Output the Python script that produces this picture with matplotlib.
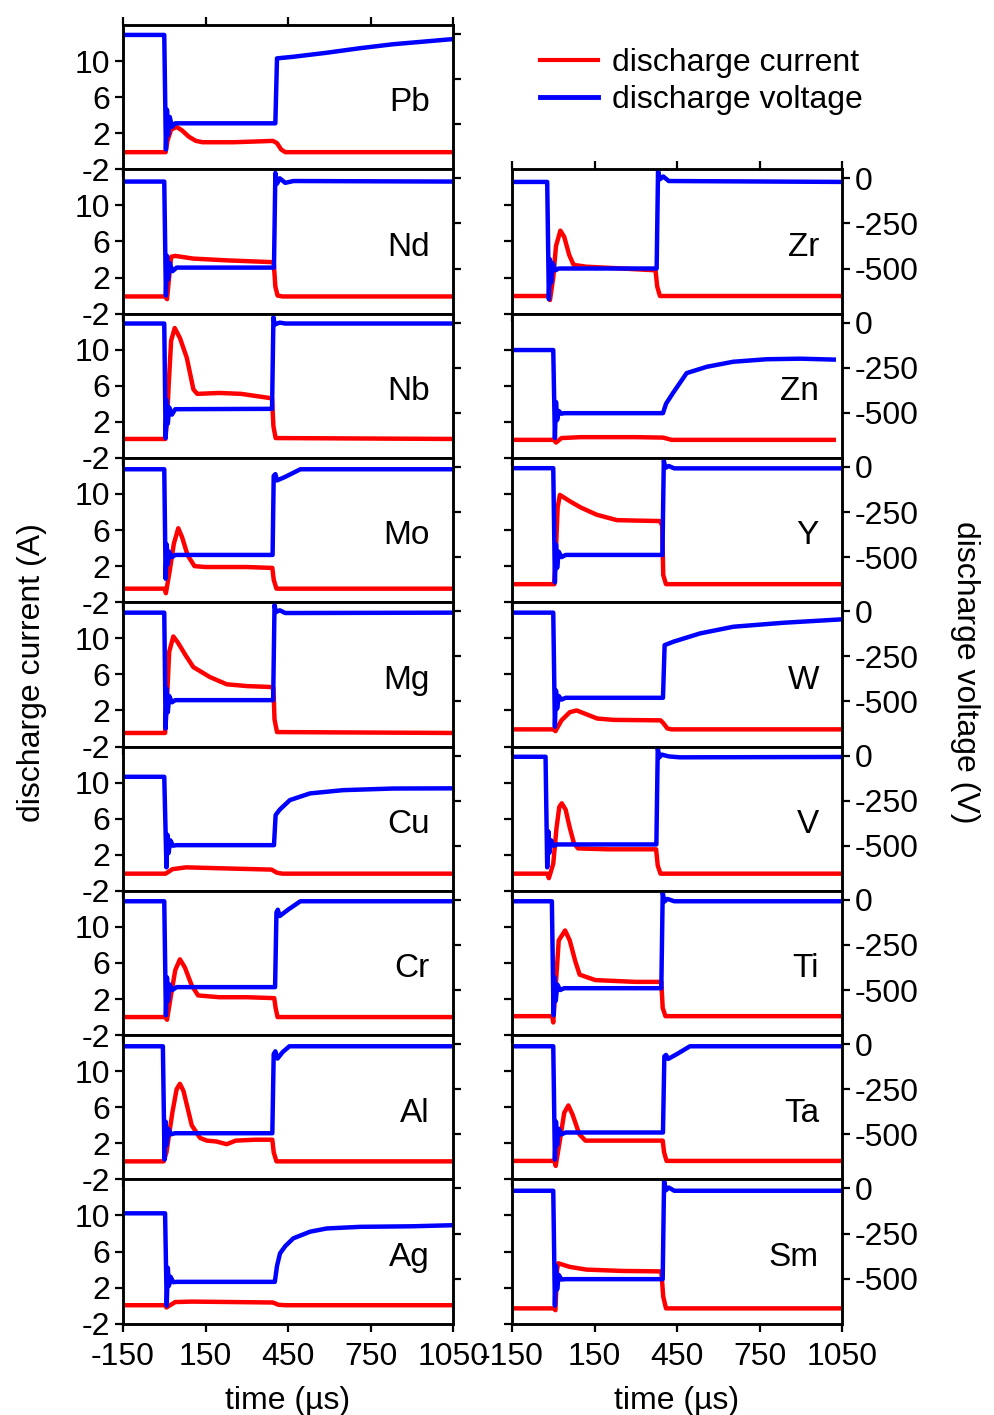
import matplotlib
matplotlib.use('Agg')
import matplotlib.pyplot as plt
from matplotlib.lines import Line2D

plt.rcParams['font.family'] = ['Liberation Sans', 'DejaVu Sans']
plt.rcParams['font.size'] = 23
plt.rcParams['axes.unicode_minus'] = False
plt.rcParams['axes.linewidth'] = 1.8
plt.rcParams['xtick.direction'] = 'out'
plt.rcParams['ytick.direction'] = 'out'
plt.rcParams['xtick.major.size'] = 6
plt.rcParams['ytick.major.size'] = 6
plt.rcParams['xtick.major.width'] = 1.6
plt.rcParams['ytick.major.width'] = 1.6
plt.rcParams['xtick.major.pad'] = 7

# (time in us, value) pairs
# current in A, voltage in V
pb_cur = [(-150, -0.1), (5, -0.1), (12, 1.2), (25, 2.4), (45, 2.7), (65, 2.3), (90, 1.6),
          (115, 1.15), (140, 1.0), (250, 1.0), (350, 1.1), (395, 1.15), (410, 0.9),
          (425, 0.2), (440, -0.1), (1050, -0.1)]
pb_volt = [(-150, -5), (0, -5), (6, -640), (10, -420), (14, -560), (20, -460), (28, -515),
           (40, -495), (404, -495), (410, -135), (470, -126), (590, -104), (710, -79),
           (830, -57), (1050, -28)]

nd_cur = [(-150, -0.1), (4, -0.1), (10, -0.4), (25, 4.3), (40, 4.4), (105, 4.1), (230, 3.9),
          (398, 3.7), (404, 1.0), (412, 0.0), (430, -0.1), (1050, -0.1)]
nd_volt = [(-150, -18), (0, -18), (6, -650), (10, -430), (14, -560), (20, -470), (30, -515),
           (45, -495), (399, -495), (404, 30), (410, -30), (420, 0), (440, -25), (470, -15),
           (1050, -18)]

nb_cur = [(-150, 0.1), (4, 0.1), (10, 2), (16, 6), (25, 11), (38, 12.4), (57, 11.3),
          (82, 9.1), (106, 5.6), (120, 5.1), (200, 5.2), (280, 5.1), (370, 4.7), (392, 4.6),
          (397, 1.5), (405, 0.2), (1050, 0.1)]
nb_volt = [(-150, -5), (0, -5), (5, -640), (9, -430), (13, -560), (18, -470), (28, -510),
           (40, -480), (392, -478), (397, 30), (402, -10), (420, 0), (440, -5), (1050, -5)]

mo_cur = [(-150, -0.5), (2, -0.5), (6, -1.0), (20, 1.5), (35, 4.5), (51, 6.2), (65, 5.2),
          (85, 3.2), (110, 2.0), (150, 1.9), (300, 1.9), (393, 1.8), (398, 0.5),
          (408, -0.5), (1050, -0.5)]
mo_volt = [(-150, -13), (0, -13), (5, -620), (9, -430), (13, -540), (18, -470), (28, -500),
           (40, -488), (394, -488), (398, -50), (404, -40), (410, -75), (440, -55),
           (495, -13), (1050, -13)]

mg_cur = [(-150, -0.5), (3, -0.5), (8, 2), (18, 8.5), (33, 10.2), (50, 9.5), (80, 8.0),
          (106, 6.8), (166, 5.7), (227, 4.9), (300, 4.7), (385, 4.6), (397, 4.5),
          (401, 1.0), (410, -0.4), (1050, -0.5)]
mg_volt = [(-150, -8), (0, -8), (5, -650), (9, -430), (13, -560), (18, -470), (28, -505),
           (40, -493), (396, -493), (401, 35), (406, -5), (420, 5), (440, -10), (1050, -8)]

cu_cur = [(-150, -0.1), (5, -0.1), (30, 0.4), (80, 0.6), (200, 0.5), (390, 0.35),
          (410, 0.0), (430, -0.1), (1050, -0.1)]
cu_volt = [(-150, -118), (0, -118), (8, -620), (12, -440), (16, -540), (22, -470),
           (32, -500), (45, -497), (399, -497), (405, -330), (420, -300), (457, -247),
           (530, -210), (650, -192), (833, -183), (1050, -182)]

cr_cur = [(-150, 0), (4, 0), (10, -0.3), (25, 2.5), (40, 5.2), (57, 6.4), (75, 5.5),
          (100, 3.5), (123, 2.4), (200, 2.2), (300, 2.2), (400, 2.1), (405, 1.0),
          (412, 0), (1050, 0)]
cr_volt = [(-150, -8), (0, -8), (6, -640), (10, -430), (14, -560), (20, -470), (30, -500),
           (45, -484), (403, -484), (408, -70), (413, -55), (420, -90), (450, -55),
           (495, -8), (1050, -8)]

al_cur = [(-150, 0), (-2, 0), (8, 1.0), (30, 5.5), (45, 8.0), (57, 8.6), (70, 7.8),
          (100, 4.0), (130, 2.6), (155, 2.3), (190, 2.2), (227, 1.9), (260, 2.3),
          (330, 2.4), (393, 2.4), (398, 1.0), (408, 0.0), (1050, 0)]
al_volt = [(-150, -12), (-5, -12), (1, -640), (5, -430), (9, -560), (15, -470), (25, -500),
           (40, -494), (393, -494), (398, -55), (404, -40), (412, -80), (430, -45),
           (455, -12), (1050, -12)]

ag_cur = [(-150, 0.05), (3, 0.05), (8, -0.2), (40, 0.4), (100, 0.45), (250, 0.4),
          (395, 0.35), (415, 0.1), (440, 0.05), (1050, 0.05)]
ag_volt = [(-150, -138), (3, -138), (9, -650), (13, -440), (17, -540), (23, -490),
           (33, -520), (45, -518), (402, -518), (410, -430), (421, -360), (440, -320),
           (469, -277), (530, -240), (591, -222), (712, -213), (900, -210), (1050, -204)]

zr_cur = [(-150, -0.05), (-18, -0.05), (-12, -0.5), (0, 2), (10, 5.5), (26, 7.2), (40, 6.5),
          (58, 4.5), (74, 3.4), (120, 3.2), (250, 3.0), (372, 2.8), (378, 1.0),
          (388, -0.05), (1050, -0.05)]
zr_volt = [(-150, -20), (-22, -20), (-16, -670), (-12, -450), (-8, -580), (-2, -470),
           (8, -510), (20, -500), (376, -500), (381, 40), (388, -5), (400, 10), (420, -15),
           (1050, -20)]

zn_cur = [(-150, 0), (3, 0), (10, -0.3), (30, 0.2), (100, 0.3), (300, 0.3), (400, 0.25),
          (430, 0.0), (1020, 0)]
zn_volt = [(-150, -152), (0, -152), (6, -640), (10, -440), (14, -540), (20, -490),
           (30, -505), (40, -502), (399, -502), (410, -450), (435, -391), (485, -280),
           (558, -245), (654, -217), (776, -203), (900, -200), (1020, -205)]

y_cur = [(-150, 0), (4, 0), (10, 4), (16, 8.5), (24, 9.9), (60, 9.2), (100, 8.5),
         (158, 7.7), (231, 7.1), (300, 7.05), (388, 7.0), (396, 6.5), (400, 1.0),
         (410, 0.0), (1050, 0)]
y_volt = [(-150, -7), (0, -7), (6, -640), (10, -430), (14, -560), (20, -470), (30, -500),
          (45, -488), (397, -488), (402, 35), (408, -5), (420, 5), (440, -8), (1050, -8)]

w_cur = [(-150, -0.1), (3, -0.1), (8, -0.3), (30, 0.9), (60, 1.8), (85, 2.0), (110, 1.7),
         (160, 1.1), (220, 0.95), (390, 0.9), (400, 0.6), (415, 0.0), (430, -0.1),
         (1050, -0.1)]
w_volt = [(-150, -8), (0, -8), (6, -640), (10, -440), (14, -540), (20, -470), (30, -490),
          (45, -480), (399, -480), (405, -188), (437, -169), (534, -123), (655, -86),
          (837, -64), (1050, -45)]

v_cur = [(-150, -0.1), (-22, -0.1), (-16, -0.6), (0, 1), (12, 5), (22, 7.3), (31, 7.7),
         (45, 7), (60, 5), (75, 3.3), (90, 2.7), (200, 2.6), (374, 2.6), (380, 0.8),
         (390, -0.1), (1050, -0.1)]
v_volt = [(-150, -7), (-28, -7), (-22, -620), (-18, -420), (-14, -540), (-8, -470),
          (2, -500), (15, -493), (375, -493), (380, 40), (386, -10), (395, 5), (420, -5),
          (460, -10), (1050, -8)]

ti_cur = [(-150, 0.1), (-4, 0.1), (0, -0.6), (8, 3), (20, 8.5), (43, 9.6), (60, 8.5),
          (80, 6.2), (96, 4.7), (153, 4.1), (300, 3.9), (393, 3.9), (398, 1.0), (408, 0.1),
          (1050, 0.1)]
ti_volt = [(-150, -8), (-5, -8), (1, -640), (5, -430), (9, -560), (15, -470), (25, -500),
           (40, -490), (393, -490), (398, 40), (404, -10), (415, 5), (440, -8), (1050, -8)]

ta_cur = [(-150, 0.05), (4, 0.05), (9, -0.5), (25, 2.5), (40, 5.4), (55, 6.2), (70, 5.2),
          (95, 3.0), (117, 2.3), (250, 2.3), (398, 2.3), (403, 1.0), (412, 0.05),
          (1050, 0.05)]
ta_volt = [(-150, -12), (0, -12), (6, -640), (10, -430), (14, -560), (20, -470), (30, -500),
           (45, -490), (399, -490), (404, -68), (410, -60), (418, -82), (450, -55),
           (497, -12), (1050, -12)]

sm_cur = [(-150, -0.3), (1, -0.3), (8, -0.5), (14, 4.0), (18, 4.7), (60, 4.3), (120, 4.0),
          (250, 3.85), (393, 3.8), (400, 1.0), (410, -0.3), (1050, -0.3)]
sm_volt = [(-150, -13), (0, -13), (6, -650), (10, -430), (14, -560), (20, -480), (30, -505),
           (45, -503), (398, -503), (403, 40), (410, -10), (420, 5), (440, -13), (1050, -13)]

left_names = ['Pb', 'Nd', 'Nb', 'Mo', 'Mg', 'Cu', 'Cr', 'Al', 'Ag']
left_cur = [pb_cur, nd_cur, nb_cur, mo_cur, mg_cur, cu_cur, cr_cur, al_cur, ag_cur]
left_volt = [pb_volt, nd_volt, nb_volt, mo_volt, mg_volt, cu_volt, cr_volt, al_volt, ag_volt]

right_names = ['Zr', 'Zn', 'Y', 'W', 'V', 'Ti', 'Ta', 'Sm']
right_cur = [zr_cur, zn_cur, y_cur, w_cur, v_cur, ti_cur, ta_cur, sm_cur]
right_volt = [zr_volt, zn_volt, y_volt, w_volt, v_volt, ti_volt, ta_volt, sm_volt]

time_ticks = [-150, 150, 450, 750, 1050]
cur_ticks = [-2, 2, 6, 10]
volt_ticks = [0, -250, -500]

W, H = 994, 1415
fig = plt.figure(figsize=(W / 100, H / 100), dpi=100)

col_w = 330 / W
row_h = 144.3 / H
top = 25


def make_panel(x0, row, name, cur, volt, first, last, left_col):
    y0 = 1 - (top + 144.3 * (row + 1)) / H
    ax = fig.add_axes([x0, y0, col_w, row_h])
    ax2 = ax.twinx()

    t, i = zip(*cur)
    ax.plot(t, i, color='red', lw=3.2)
    t, v = zip(*volt)
    ax2.plot(t, v, color='blue', lw=3.2)

    ax.set_xlim(-150, 1050)
    ax.set_ylim(-2, 14)
    ax2.set_ylim(-750, 50)
    ax.set_xticks(time_ticks)
    ax.set_yticks(cur_ticks)
    ax2.set_yticks(volt_ticks)

    ax.tick_params(axis='x', top=first, labelbottom=last)
    ax.tick_params(axis='y', labelleft=left_col, pad=3)
    ax2.tick_params(axis='y', labelright=not left_col, pad=3)
    if last:
        ax.set_xlabel('time (µs)', labelpad=10)

    ax.text(0.93, 0.46, name, transform=ax.transAxes, ha='right', va='center', fontsize=24)
    return ax


for k, name in enumerate(left_names):
    make_panel(123 / W, k, name, left_cur[k], left_volt[k],
               k == 0, k == len(left_names) - 1, True)

for k, name in enumerate(right_names):
    make_panel(512 / W, k + 1, name, right_cur[k], right_volt[k],
               k == 0, k == len(right_names) - 1, False)

handles = [Line2D([], [], color='red', lw=3), Line2D([], [], color='blue', lw=3.5)]
fig.legend(handles, ['discharge current', 'discharge voltage'], loc='upper left',
           bbox_to_anchor=(540 / W, 1 - 48 / H), frameon=False, fontsize=23,
           handlelength=1.8, handletextpad=0.45, labelspacing=0.22,
           borderpad=0, borderaxespad=0)

fig.text(32 / W, 0.525, 'discharge current (A)', rotation=90, ha='center', va='center')
fig.text(965 / W, 0.525, 'discharge voltage (V)', rotation=270, ha='center', va='center')

fig.savefig('out.png', dpi=100)
